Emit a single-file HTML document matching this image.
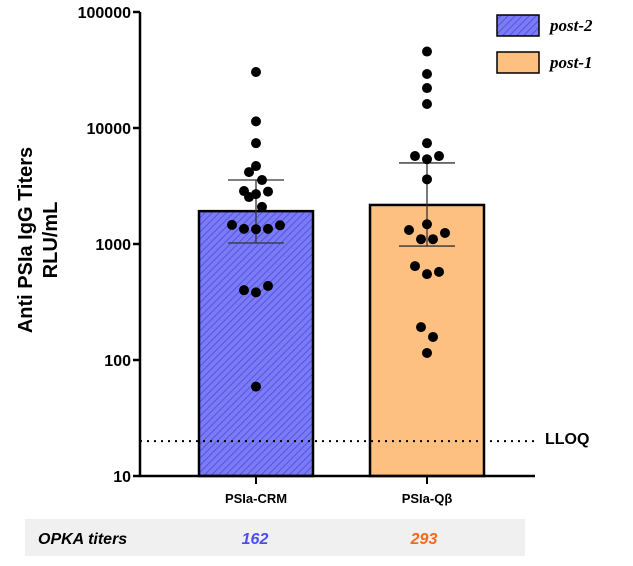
<!DOCTYPE html>
<html><head><meta charset="utf-8"><style>
body{margin:0;background:#fff;width:633px;height:561px;overflow:hidden;font-family:"Liberation Sans",sans-serif}
</style></head><body>
<svg width="633" height="561" xmlns="http://www.w3.org/2000/svg">
<defs>
<pattern id="hatch" width="5" height="5" patternUnits="userSpaceOnUse" patternTransform="rotate(45)">
<rect width="5" height="5" fill="#7b7bf5"/><line x1="0" y1="0" x2="0" y2="5" stroke="#4a4ae0" stroke-width="1.6"/>
</pattern>
</defs>
<g id="plot"></g>
<text transform="translate(32,240) rotate(-90)" text-anchor="middle" font-weight="bold" font-size="20">Anti PSIa IgG Titers</text>
<text transform="translate(57,240) rotate(-90)" text-anchor="middle" font-weight="bold" font-size="20">RLU/mL</text>
<rect x="497" y="15" width="42" height="21" fill="url(#hatch)" stroke="#000" stroke-width="1.5"/>
<text x="550" y="31" font-family="Liberation Serif,serif" font-style="italic" font-weight="bold" font-size="17">post-2</text>
<rect x="497" y="52" width="42" height="21" fill="#fec080" stroke="#000" stroke-width="1.5"/>
<text x="550" y="68" font-family="Liberation Serif,serif" font-style="italic" font-weight="bold" font-size="17">post-1</text>
<text x="545" y="444" font-weight="bold" font-size="16">LLOQ</text>
<rect x="25" y="519" width="500" height="37" fill="#f0f0f0"/>
<text x="38" y="544" font-style="italic" font-weight="bold" font-size="16">OPKA titers</text>
<text x="255" y="544" text-anchor="middle" font-style="italic" font-weight="bold" font-size="16" fill="#4d4df5">162</text>
<text x="424" y="544" text-anchor="middle" font-style="italic" font-weight="bold" font-size="16" fill="#f26a1b">293</text>
</svg>
<script>
const categories=["PSIa-CRM","PSIa-Qβ"];
const barMeans=[1920,2170];
const errLow=[1020,960];
const errHigh=[3560,5000];
const crmValues=[30400,11400,7400,4700,4170,3560,2860,2830,2690,2540,2090,1460,1350,1340,1350,1450,435,400,383,59];
const crmJitter=[0,0,0,0,-7,6,-12,12,0,-7,6,-24,-12,0,12,24,12,-12,0,0];
const qbValues=[45600,29200,22100,16100,7400,5730,5730,5380,3610,1480,1320,1245,1100,1100,645,550,575,192,158,115];
const qbJitter=[0,0,0,0,0,-12,12,0,0,0,-18,18,-6,6,-12,0,12,-6,6,0];
const yTicks=[10,100,1000,10000,100000];
const yTickLabels=["10","100","1000","10000","100000"];
const lloq=20;
const NS="http://www.w3.org/2000/svg";
const g=document.getElementById("plot");
const x0=140,x1=535,yTop=12,yBot=476;
function y(v){return yBot-(Math.log10(v)-1)/4*(yBot-yTop);}
const centers=[256,427],bw=114;
function mk(t,a){const e=document.createElementNS(NS,t);for(const k in a)e.setAttribute(k,a[k]);g.appendChild(e);return e;}
let e;
const fills=["url(#hatch)","#fec080"];
const vals=[crmValues,qbValues],jit=[crmJitter,qbJitter];
categories.forEach((c,i)=>{
 const cx=centers[i];
 e=mk("rect",{x:cx-bw/2,y:y(barMeans[i]),width:bw,height:yBot-y(barMeans[i]),fill:fills[i],stroke:"#000","stroke-width":2.5});
 
 
});
e=mk("line",{x1:x0,x2:x1,y1:y(lloq),y2:y(lloq),stroke:"#000","stroke-width":2,"stroke-dasharray":"2 5"});


categories.forEach((c,i)=>{
 const cx=centers[i];
 e=mk("path",{d:`M${cx},${y(errLow[i])}V${y(errHigh[i])}M${cx-28},${y(errHigh[i])}h56M${cx-28},${y(errLow[i])}h56`,stroke:"#333","stroke-width":1.3,fill:"none"});
 
 
 vals[i].forEach((v,j)=>{
  e=mk("circle",{cx:cx+jit[i][j],cy:y(v),r:5,fill:"#000"});
  
  
 });
 e=mk("line",{x1:cx,x2:cx,y1:yBot,y2:yBot+8,stroke:"#000","stroke-width":2});
 
 
 e=mk("text",{x:cx,y:503,"text-anchor":"middle","font-weight":"bold","font-size":13});
 e.textContent=c;
 
 
});
e=mk("path",{d:`M${x0},${yTop}V${yBot}H${x1}`,stroke:"#000","stroke-width":2.5,fill:"none"});


yTicks.forEach((t,i)=>{
 e=mk("line",{x1:x0-7,x2:x0,y1:y(t),y2:y(t),stroke:"#000","stroke-width":2.5});
 
 
 e=mk("text",{x:x0-9,y:y(t)+6,"text-anchor":"end","font-weight":"bold","font-size":16});
 e.textContent=yTickLabels[i];
 
 
});
</script>
</body></html>
